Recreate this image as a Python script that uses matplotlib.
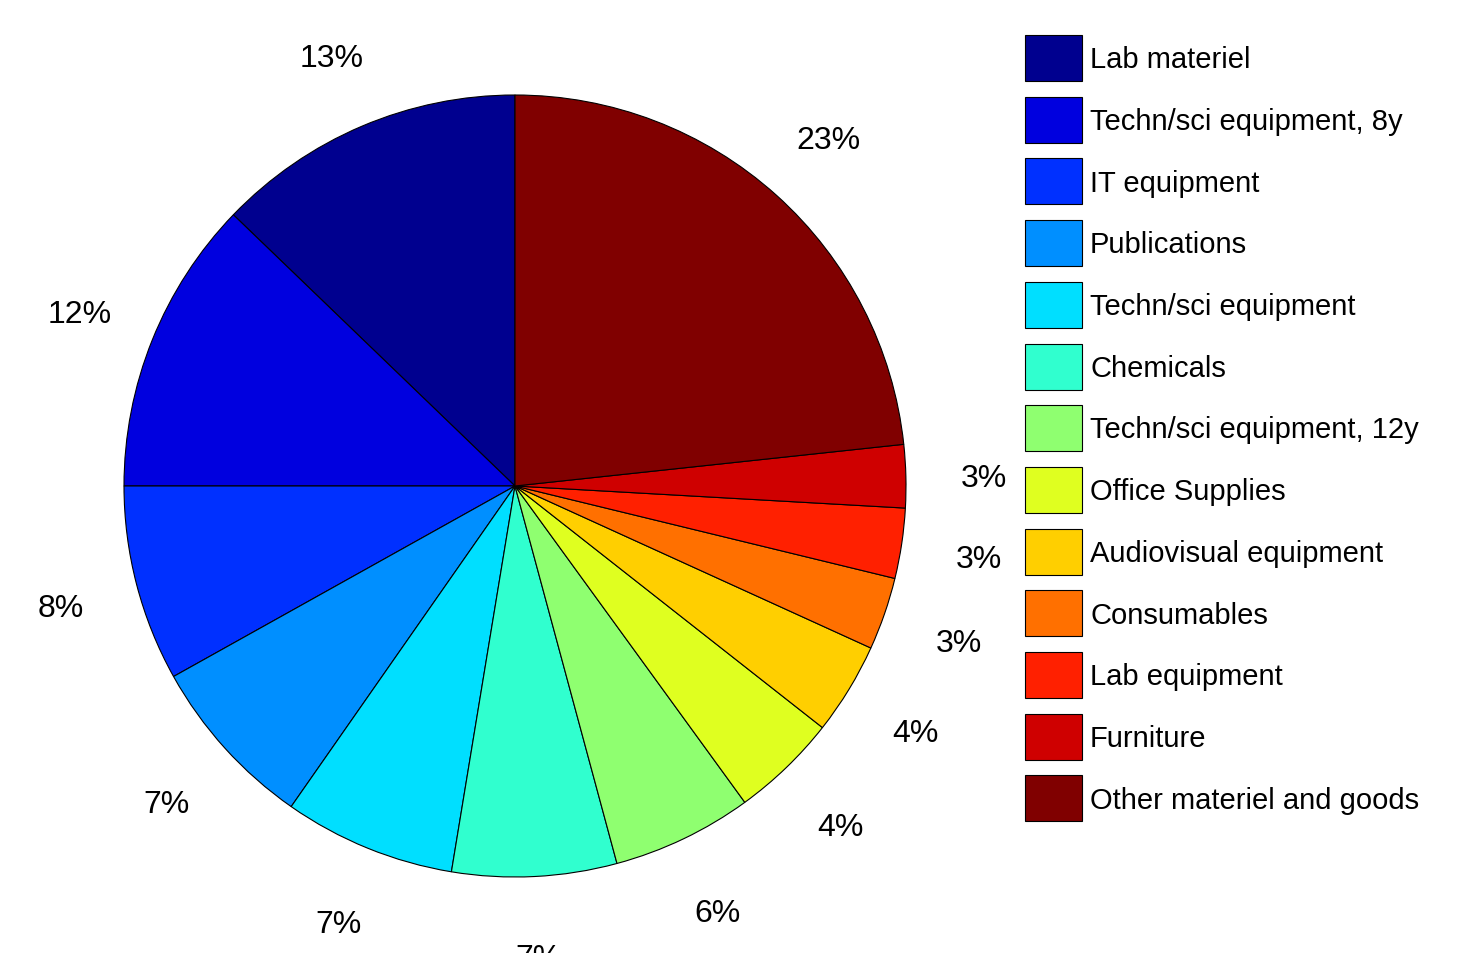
import matplotlib
matplotlib.use("Agg")
import matplotlib.pyplot as plt
from matplotlib.patches import Patch

plt.rcParams["font.family"] = ["Liberation Sans", "DejaVu Sans"]

# Spending shares (%), listed counter-clockwise from 12 o'clock
categories = [
    "Lab materiel",
    "Techn/sci equipment, 8y",
    "IT equipment",
    "Publications",
    "Techn/sci equipment",
    "Chemicals",
    "Techn/sci equipment, 12y",
    "Office Supplies",
    "Audiovisual equipment",
    "Consumables",
    "Lab equipment",
    "Furniture",
    "Other materiel and goods",
]
shares = [12.8, 12.2, 8.1, 7.2, 7.1, 6.8, 5.8, 4.4, 3.8, 3.0, 2.9, 2.6, 23.3]

# jet colours as sampled by a scaled 64-entry colormap
colors = [
    "#00008F", "#0000DF", "#0030FF", "#008FFF", "#00DFFF", "#30FFCF",
    "#8FFF70", "#DFFF20", "#FFCF00", "#FF7000", "#FF2000", "#CF0000",
    "#800000",
]

W, H, DPI = 1464, 954, 100
cx, cy, R = 515, 467, 391  # pie centre (from bottom-left) and radius, px

fig = plt.figure(figsize=(W / DPI, H / DPI), dpi=DPI)
ax = fig.add_axes([0, 0, 1, 1])

total = sum(shares)
wedges, texts = ax.pie(
    shares,
    colors=colors,
    startangle=90,
    counterclock=True,
    radius=1.0,
    labels=[f"{round(s / total * 100 + 1e-9):.0f}%" for s in shares],
    labeldistance=1.2,
    wedgeprops=dict(edgecolor="black", linewidth=0.8),
    textprops=dict(fontsize=23, va="center_baseline"),
    frame=False,
)
for t in texts:
    t.set_horizontalalignment("center")
ax.set_xlim(-cx / R, (W - cx) / R)
ax.set_ylim(-cy / R, (H - cy) / R)
ax.set_aspect("auto")
ax.axis("off")

# legend boxes 57x46 px, rows 61.7 px apart
handles = [Patch(facecolor=c, edgecolor="black", linewidth=0.8) for c in colors]
fs = 21
fs_px = fs * DPI / 72
box_w, box_h, row = 57, 46, 61.7
fig.legend(
    handles,
    categories,
    loc="upper left",
    bbox_to_anchor=(1025 / W, 1 - 36 / H),
    frameon=False,
    fontsize=fs,
    handlelength=box_w / fs_px,
    handleheight=(box_h / fs_px - 0.245) / 0.65,
    labelspacing=(row - box_h) / fs_px,
    handletextpad=8 / fs_px,
    borderpad=0,
    borderaxespad=0,
)

fig.savefig("out.png", dpi=DPI)
